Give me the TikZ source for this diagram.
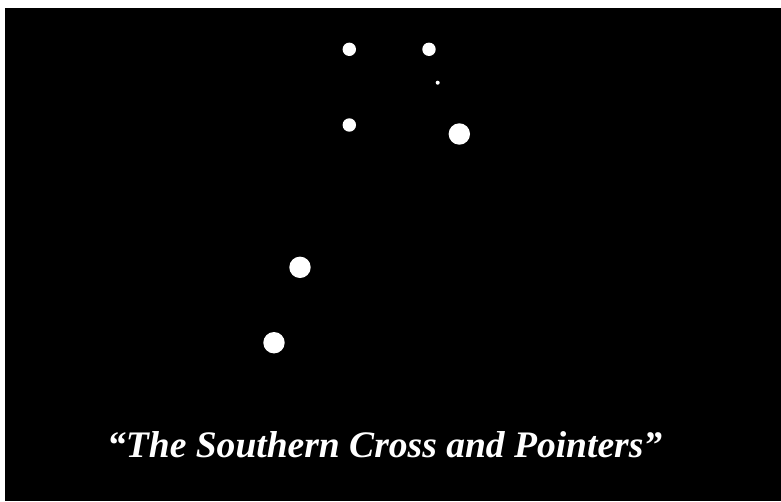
\documentclass[tikz,border=0pt]{standalone}
\usepackage{fontspec}
\setmainfont{Liberation Serif}
\begin{document}
\begin{tikzpicture}[x=1pt,y=-1pt,
  star/.style={circle,fill=white,draw=none,inner sep=0pt,minimum size=#1}]
\useasboundingbox (0,0) rectangle (781,501);
\fill[white] (0,0) rectangle (781,501);
\fill[black] (5,8) rectangle (781,501);
\node[star=13.4pt] (s1) at (349.3,49.3) {};
\node[star=13.4pt] (s2) at (429,49.3) {};
\node[star=4pt] (s3) at (437.7,82.7) {};
\node[star=13.4pt] (s4) at (349.3,125) {};
\node[star=21.4pt] (s5) at (459.3,134) {};
\node[star=21.4pt] (s6) at (300,267.3) {};
\node[star=21.4pt] (s7) at (274,342.7) {};
\node[anchor=base west,inner sep=0pt,text=white] (title) at (107,457.7)
  {\resizebox{555pt}{24.5pt}{\vphantom{T}\smash{\bfseries\itshape “The Southern Cross and Pointers”}}};
\end{tikzpicture}
\end{document}
